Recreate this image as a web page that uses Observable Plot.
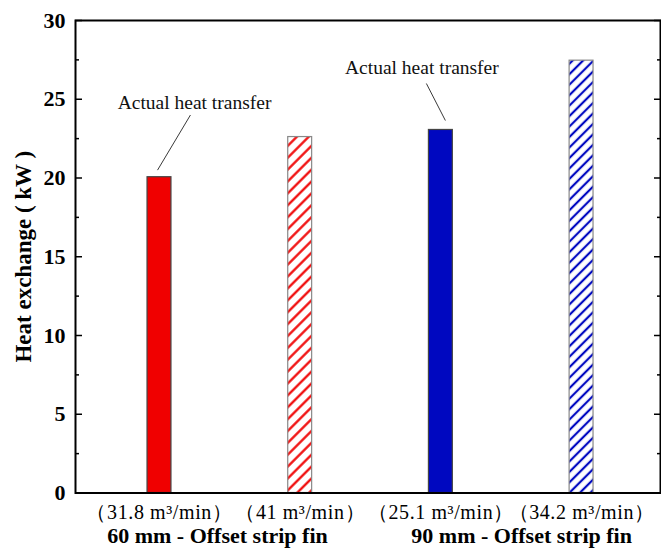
<!DOCTYPE html>
<html>
<head>
<meta charset="utf-8">
<script src="https://cdn.jsdelivr.net/npm/d3@7"></script>
<script src="https://cdn.jsdelivr.net/npm/@observablehq/plot@0.6"></script>
<style>
  html, body { margin: 0; padding: 0; background: #fff; }
</style>
</head>
<body>
<div id="chart"></div>
<script>
// ---- data ----
const categories = ["（31.8 m³/min）", "（41 m³/min）", "（25.1 m³/min）", "（34.2 m³/min）"];
const heat = [20.05, 22.6, 23.05, 27.45];
const groups = ["60 mm - Offset strip fin", "90 mm - Offset strip fin"];
const annotationText = "Actual heat transfer";
const yTicks = [0, 5, 10, 15, 20, 25, 30];
const yMinorTicks = [2.5, 7.5, 12.5, 17.5, 22.5, 27.5];

// ---- styles ----
const RED = "#f00000", BLUE = "#0008c0";
const fills = [RED, "url(#hatchRed)", BLUE, "url(#hatchBlue)"];
const strokes = ["#444", "#888", "#444", "#888"];
const half = 0.085; // half bar width, in x units
const font = "'Liberation Serif', 'Times New Roman', serif";

const rows = categories.map((c, i) => ({i, c, v: heat[i]}));

const tickAxis = (anchor, ticks, size) => Plot.axisY({
  anchor, ticks, tickSize: size, dx: anchor === "left" ? size : -size,
  tickFormat: () => "", label: null, strokeWidth: 1.5
});

const chart = Plot.plot({
  width: 661,
  height: 550,
  marginLeft: 75,
  marginRight: 1,
  marginTop: 20,
  marginBottom: 57.5,
  x: {domain: [-0.597, 3.561], axis: null},
  y: {domain: [0, 30], axis: null},
  color: {type: "identity"},
  style: {fontFamily: font, background: "white", color: "black"},
  marks: [
    Plot.rect(rows, {
      x1: d => d.i - half, x2: d => d.i + half, y1: 0, y2: "v",
      fill: (d) => fills[d.i], stroke: (d) => strokes[d.i], strokeWidth: 1.2
    }),
    // frame
    Plot.frame({stroke: "black", strokeWidth: 2}),
    // y ticks (inward) left and right
    tickAxis("left", yTicks, 7),
    tickAxis("left", yMinorTicks, 4),
    tickAxis("right", yTicks, 7),
    tickAxis("right", yMinorTicks, 4),
    // y tick labels
    Plot.text(yTicks, {
      y: d => d, text: d => String(d), frameAnchor: "left", textAnchor: "end",
      dx: -10, fontWeight: "bold", fontSize: 22, fill: "black"
    }),
    // y title
    Plot.text([ "Heat exchange ( kW )" ], {
      text: d => d, frameAnchor: "left", rotate: -90, dx: -52, textAnchor: "middle",
      fontWeight: "bold", fontSize: 23, fill: "black"
    }),
    // x category labels
    Plot.text(rows, {
      x: "i", text: "c", frameAnchor: "bottom", lineAnchor: "top", dy: 12,
      fontSize: 20, fill: "black"
    }),
    // group labels
    Plot.text([groups[0]], {
      x: [0.412], text: d => d, frameAnchor: "bottom", lineAnchor: "bottom", dy: 49.5,
      fontWeight: "bold", fontSize: 22, fill: "black"
    }),
    Plot.text([groups[1]], {
      x: [2.574], text: d => d, frameAnchor: "bottom", lineAnchor: "bottom", dy: 49.5,
      fontWeight: "bold", fontSize: 22, fill: "black"
    }),
    // annotations
    Plot.link([0], {
      x1: [-0.014], y1: [20.5], x2: [0.22], y2: [24.0],
      stroke: "#222", strokeWidth: 0.9
    }),
    Plot.link([0], {
      x1: [2.032], y1: [23.65], x2: [1.897], y2: [26.0],
      stroke: "#222", strokeWidth: 0.9
    }),
    Plot.text([annotationText], {
      x: [0.249], y: [24.4], text: d => d, lineAnchor: "bottom",
      fontSize: 19.5, fill: "#111"
    }),
    Plot.text([annotationText], {
      x: [1.865], y: [26.6], text: d => d, lineAnchor: "bottom",
      fontSize: 19.5, fill: "#111"
    })
  ]
});

// hatch patterns
const svg = d3.select(chart);
const defs = svg.insert("defs", ":first-child");
function hatch(id, color, w) {
  const p = defs.append("pattern")
    .attr("id", id)
    .attr("patternUnits", "userSpaceOnUse")
    .attr("width", w).attr("height", w)
    .attr("patternTransform", "rotate(45)");
  p.append("rect").attr("width", w).attr("height", w).attr("fill", "white");
  p.append("line")
    .attr("x1", w / 2).attr("y1", -1).attr("x2", w / 2).attr("y2", w + 1)
    .attr("stroke", color).attr("stroke-width", 2.2);
}
hatch("hatchRed", RED, 8.4);
hatch("hatchBlue", BLUE, 7.4);

// slightly wider spacing on the flow-rate labels
svg.selectAll("text").filter(function () { return d3.select(this).text().startsWith("（"); })
  .style("letter-spacing", "0.6px");

document.getElementById("chart").appendChild(chart);
</script>
</body>
</html>
